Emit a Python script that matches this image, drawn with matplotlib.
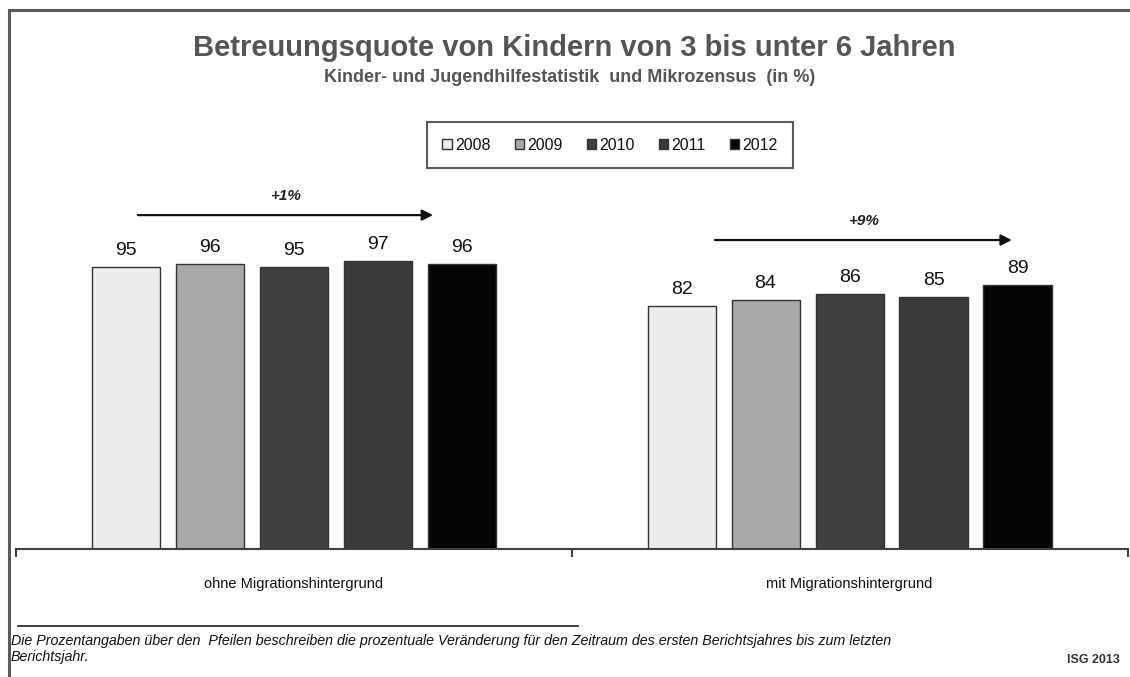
import matplotlib
matplotlib.use("Agg")
import matplotlib.pyplot as plt
import numpy as np
from matplotlib.lines import Line2D
from matplotlib.patches import Patch

plt.rcParams['font.family'] = ['Liberation Sans', 'DejaVu Sans']

categories = ["ohne Migrationshintergrund", "mit Migrationshintergrund"]
years = ["2008", "2009", "2010", "2011", "2012"]
values = {
    "2008": [95, 82],
    "2009": [96, 84],
    "2010": [95, 86],
    "2011": [97, 85],
    "2012": [96, 89],
}
changes = ["+1%", "+9%"]
colors = ["#ececec", "#a9a9a9", "#404040", "#3a3a3a", "#050505"]

W, H = 1130, 677
fig = plt.figure(figsize=(W / 100, H / 100), dpi=100)

def fx(px):
    return px / W

def fy(py):
    return 1 - py / H

# axes: x from 15.5 to 1127.5 px, y zero at 549 px, 2.968 px per unit
ymax = 120
ax_bottom = fy(549)
ax_top = fy(549 - ymax * 2.968)
ax = fig.add_axes([fx(15.5), ax_bottom, fx(1127.5) - fx(15.5), ax_top - ax_bottom])
ax.set_xlim(-0.5, 1.5)
ax.set_ylim(0, ymax)

x = np.arange(len(categories))
step = 84 / 556
bw = 68 / 556
for i, yr in enumerate(years):
    xs = x + (i - 2) * step
    ax.bar(xs, values[yr], width=bw, color=colors[i], edgecolor="#333333", linewidth=1.0, zorder=2)
    for xi, v in zip(xs, values[yr]):
        ax.annotate(str(v), (xi, v), xytext=(0, 5.5), textcoords="offset points",
                    ha="center", va="bottom", fontsize=14, color="#111111")

# arrows with change labels
arrow_specs = [(-0.28, 0.251, 112.5), (0.758, 1.292, 104.1)]
for (x0, x1, ya), lab in zip(arrow_specs, changes):
    ax.annotate("", xy=(x1, ya), xytext=(x0, ya),
                arrowprops=dict(arrowstyle="-|>", color="#111111", lw=1.6,
                                mutation_scale=16, shrinkA=0, shrinkB=0),
                annotation_clip=False)
    ax.text((x0 + x1) / 2, ya + 6.5, lab, ha="center", va="center",
            fontsize=11, fontstyle="italic", fontweight="bold", color="#222222", clip_on=False)

for s in ["top", "right", "left"]:
    ax.spines[s].set_visible(False)
ax.spines["bottom"].set_color("#404040")
ax.spines["bottom"].set_linewidth(1.5)
ax.set_yticks([])
ax.set_xticks(x)
ax.set_xticklabels(categories, fontsize=10.5, color="#111111")
ax.tick_params(axis="x", which="major", length=0, pad=20)
ax.set_xticks([-0.5, 0.5, 1.5], minor=True)
ax.tick_params(axis="x", which="minor", length=6, width=1.5, color="#404040", direction="out")
ax.patch.set_alpha(0)

# figure border (top and left)
fig.add_artist(Line2D([fx(8.5), 1.0], [fy(10), fy(10)], color="#5a5a5a", lw=2.2))
fig.add_artist(Line2D([fx(8.5), fx(8.5)], [fy(10), 0.0], color="#5a5a5a", lw=2.2))

# titles
fig.text(fx(574), fy(48), "Betreuungsquote von Kindern von 3 bis unter 6 Jahren",
         ha="center", va="center", fontsize=21, fontweight="bold", color="#555555")
fig.text(fx(570), fy(78), "Kinder- und Jugendhilfestatistik  und Mikrozensus  (in %)",
         ha="center", va="center", fontsize=13, fontweight="bold", color="#555555")

# legend
handles = [Patch(facecolor=c, edgecolor="#333333", linewidth=1.0) for c in colors]
leg = fig.legend(handles, years, loc="center", bbox_to_anchor=(fx(610), fy(145)),
                 ncol=5, fontsize=11.5, frameon=True, fancybox=False,
                 handlelength=0.6, handleheight=0.6, handletextpad=0.2,
                 columnspacing=1.5, borderpad=0.95)
leg.get_frame().set_edgecolor("#333333")
leg.get_frame().set_linewidth(1.5)
for t in leg.get_texts():
    t.set_color("#111111")

# footnote
fig.add_artist(Line2D([fx(18), fx(578)], [fy(626), fy(626)], color="#333333", lw=1.3))
fig.text(fx(11), fy(641), "Die Prozentangaben über den  Pfeilen beschreiben die prozentuale Veränderung für den Zeitraum des ersten Berichtsjahres bis zum letzten",
         ha="left", va="center", fontsize=10.3, fontstyle="italic", color="#111111")
fig.text(fx(11), fy(657), "Berichtsjahr.",
         ha="left", va="center", fontsize=10.3, fontstyle="italic", color="#111111")
fig.text(fx(1120), fy(660), "ISG 2013", ha="right", va="center", fontsize=9,
         fontweight="bold", color="#333333")

fig.savefig("out.png", dpi=100)
